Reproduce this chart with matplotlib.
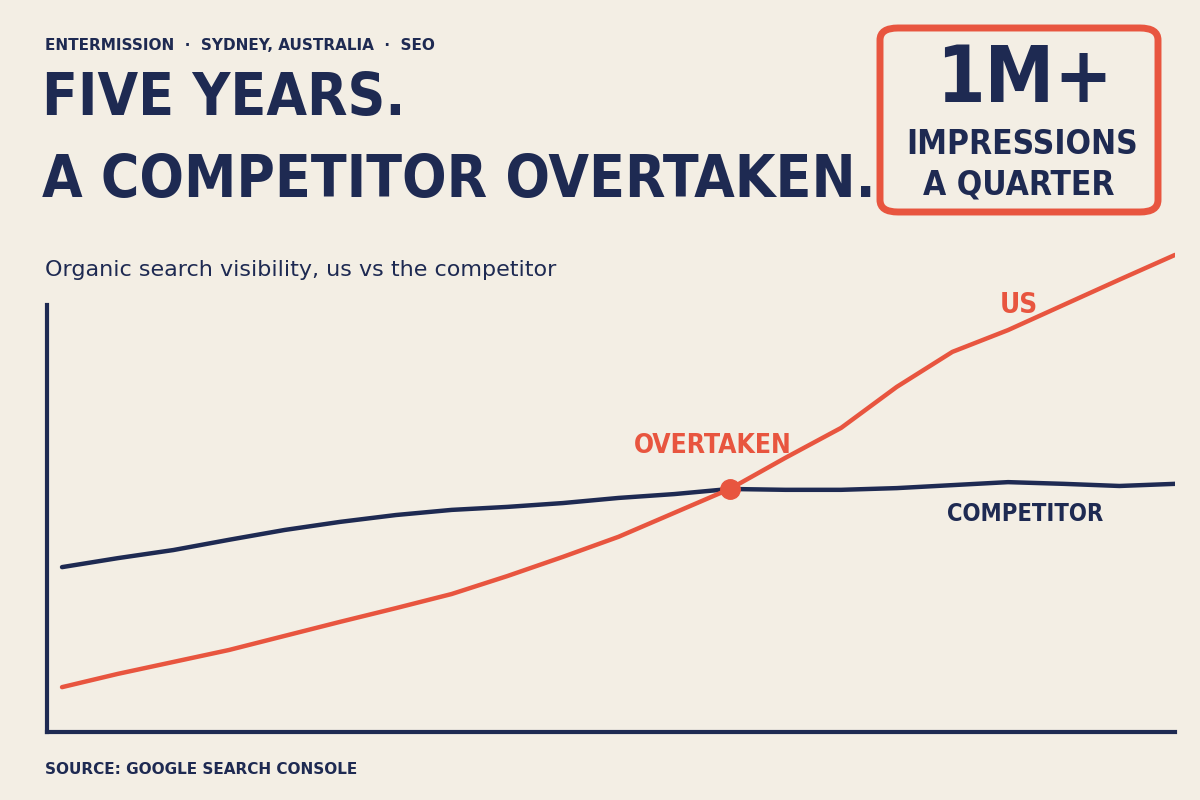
import matplotlib.pyplot as plt
from matplotlib.patches import FancyBboxPatch

BG = "#f3eee4"
NAVY = "#1e2a52"
RED = "#e8553f"

quarters = list(range(21))
competitor = [38.6, 40.7, 42.6, 45.0, 47.3, 49.2, 50.8, 52.0, 52.7, 53.6, 54.8,
              55.7, 56.9, 56.7, 56.7, 57.1, 57.8, 58.5, 58.1, 57.6, 58.1]
us = [10.5, 13.6, 16.4, 19.2, 22.5, 25.8, 29.0, 32.3, 36.5, 41.0, 45.7,
      51.3, 56.9, 64.2, 71.2, 80.8, 89.0, 94.1, 100.0, 105.9, 111.7]
cross_q, cross_v = 12, 56.9

COND = dict(family="DejaVu Sans", fontstretch="condensed", fontweight="bold")

fig = plt.figure(figsize=(12, 8), dpi=100, facecolor=BG)
ax = fig.add_axes([47 / 1200, 68 / 800, 1128 / 1200, 504 / 800], facecolor=BG)
ax.plot(quarters, competitor, color=NAVY, lw=3.2, solid_capstyle="round")
ax.plot(quarters, us, color=RED, lw=3.2, solid_capstyle="round")
ax.plot(cross_q, cross_v, "o", color=RED, ms=14, zorder=5)
ax.set_xlim(-0.27, 20)
ax.set_ylim(0, 118)
for s in ("top", "right"):
    ax.spines[s].set_visible(False)
ax.spines["left"].set_bounds(0, 100)
for s in ("left", "bottom"):
    ax.spines[s].set_color(NAVY)
    ax.spines[s].set_linewidth(3)
ax.set_xticks([])
ax.set_yticks([])

ax.text(cross_q - 0.3, cross_v + 7, "OVERTAKEN", color=RED, fontsize=19,
        ha="center", va="bottom", **COND)
ax.text(17.2, 100, "US", color=RED, fontsize=20, ha="center", va="center", **COND)
ax.text(17.3, 51, "COMPETITOR", color=NAVY, fontsize=17, ha="center",
        va="center", **COND)

fig.text(45 / 1200, 1 - 45 / 800, "ENTERMISSION  ·  SYDNEY, AUSTRALIA  ·  SEO",
         color=NAVY, fontsize=11, fontweight="bold", va="center")
fig.text(42 / 1200, 1 - 98 / 800, "FIVE YEARS.", color=NAVY, fontsize=42,
         va="center", **COND)
fig.text(42 / 1200, 1 - 180 / 800, "A COMPETITOR OVERTAKEN.", color=NAVY,
         fontsize=42, va="center", **COND)
fig.text(45 / 1200, 1 - 270 / 800, "Organic search visibility, us vs the competitor",
         color=NAVY, fontsize=16, va="center")
fig.text(45 / 1200, 1 - 770 / 800, "SOURCE: GOOGLE SEARCH CONSOLE", color=NAVY,
         fontsize=11, fontweight="bold", va="center")

box = FancyBboxPatch((880 / 1200, 1 - 212 / 800), 278 / 1200, 184 / 800,
                     boxstyle="round,pad=0,rounding_size=0.015",
                     transform=fig.transFigure, fill=False, ec=RED, lw=5)
fig.patches.append(box)
fig.text(1024 / 1200, 1 - 80 / 800, "1M+", color=NAVY, fontsize=56,
         ha="center", va="center", **COND)
fig.text(1022 / 1200, 1 - 145 / 800, "IMPRESSIONS", color=NAVY, fontsize=24,
         ha="center", va="center", **COND)
fig.text(1019 / 1200, 1 - 185 / 800, "A QUARTER", color=NAVY, fontsize=24,
         ha="center", va="center", **COND)

fig.savefig("out.png", dpi=100, facecolor=BG)
